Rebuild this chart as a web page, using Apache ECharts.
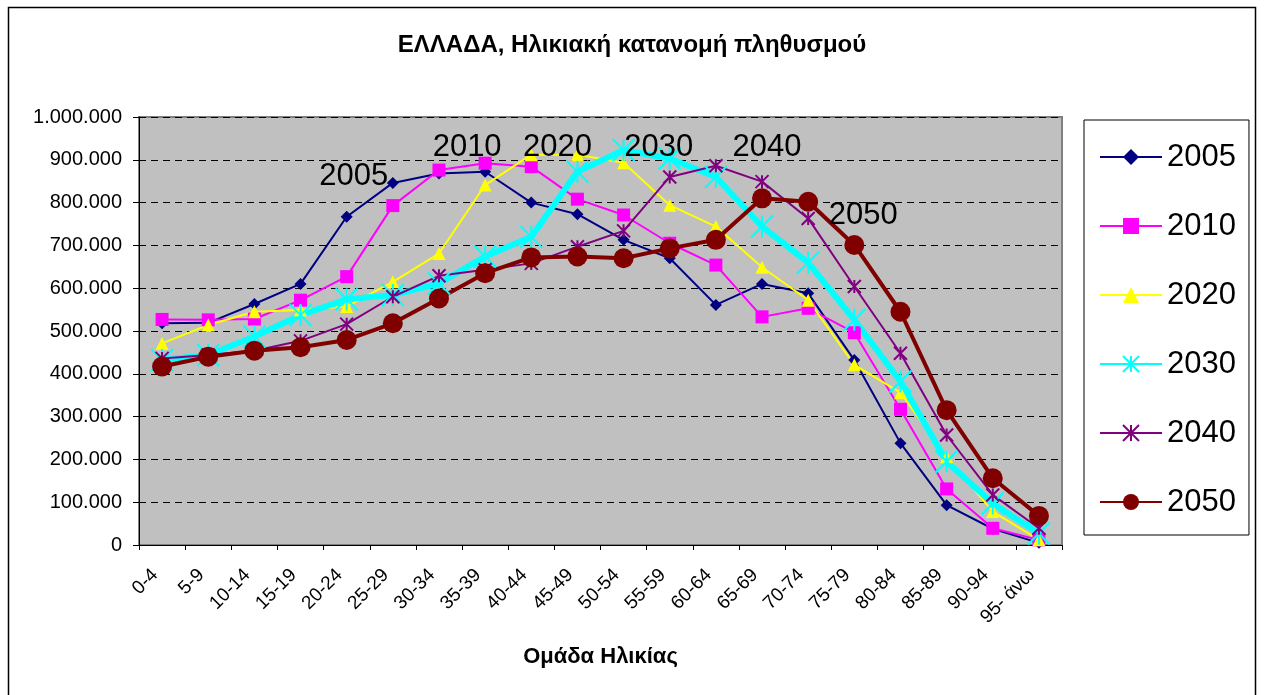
<!DOCTYPE html>
<html>
<head>
<meta charset="utf-8">
<script src="https://cdn.jsdelivr.net/npm/echarts@6/dist/echarts.min.js"></script>
<style>
html,body{margin:0;padding:0;background:#fff;}
#chart{width:1264px;height:695px;}
</style>
</head>
<body>
<div id="chart"></div>
<script>
const categories = ['0-4','5-9','10-14','15-19','20-24','25-29','30-34','35-39','40-44','45-49','50-54','55-59','60-64','65-69','70-74','75-79','80-84','85-89','90-94','95- άνω'];
const yTicks = [0,100000,200000,300000,400000,500000,600000,700000,800000,900000,1000000];
const years = ['2005','2010','2020','2030','2040','2050'];
const s2005 = [518000,519000,563000,610000,767000,846000,868000,872000,800000,773000,713000,670000,561000,610000,588000,432000,238000,93000,38000,5000];
const s2010 = [527000,526000,528000,572000,627000,793000,876000,892000,884000,808000,771000,705000,654000,533000,553000,496000,317000,131000,39000,12000];
const s2020 = [471000,514000,545000,549000,557000,615000,681000,841000,912000,912000,893000,794000,744000,649000,572000,421000,356000,206000,78000,12000];
const s2030 = [432000,444000,487000,537000,574000,584000,611000,674000,720000,872000,923000,903000,860000,744000,660000,526000,382000,195000,97000,27000];
const s2040 = [436000,444000,454000,477000,516000,580000,629000,643000,658000,697000,734000,860000,886000,849000,763000,604000,448000,257000,117000,39000];
const s2050 = [417000,440000,454000,462000,479000,518000,576000,635000,672000,674000,670000,693000,713000,810000,802000,701000,545000,315000,156000,68000];
// year annotation anchors: [category index, value]
const annot2005 = [4, 862000];
const annot2010 = [7, 928000];
const annot2020 = [9, 928000];
const annot2030 = [11, 928000];
const annot2040 = [13, 928000];
const annot2050 = [15, 769000];

const FONT = 'Liberation Sans, Arial, Helvetica, sans-serif';
const ASTER = 'path://M5,0L5,10M0,0L10,10M10,0L0,10';

function fmt(v){ return String(v).replace(/\B(?=(\d{3})+(?!\d))/g,'.'); }

function mk(text, anchor, dx){
  return {
    symbol:'circle', symbolSize:0, z:6,
    label:{show:true, position:'inside', formatter:text, color:'#000', fontSize:31, fontFamily:FONT, offset:[dx,0]},
    data:[{coord:anchor}]
  };
}

const chart = echarts.init(document.getElementById('chart'), null, {renderer:'canvas'});
chart.setOption({
  animation:false,
  backgroundColor:'#fff',
  title:{
    text:'ΕΛΛΑΔΑ, Ηλικιακή κατανομή πληθυσμού',
    left:'center', top:28,
    textStyle:{fontFamily:FONT, fontWeight:'bold', fontSize:24, color:'#000'}
  },
  graphic:[{
    type:'rect', left:6, top:5, z:-1,
    shape:{width:1247, height:720},
    style:{fill:'none', stroke:'#000', lineWidth:1.5}
  }],
  legend:{
    orient:'vertical', left:1084, top:120,
    padding:[20,13,16,15],
    itemWidth:62, itemHeight:20, itemGap:35,
    borderColor:'#000', borderWidth:1,
    backgroundColor:'#fff',
    textStyle:{fontFamily:FONT, fontSize:31, color:'#000', lineHeight:34},
    data:years
  },
  grid:{
    left:139, top:117, width:923, height:428,
    show:true, backgroundColor:'#C0C0C0', borderColor:'#808080', borderWidth:2,
    outerBoundsMode:'none', containLabel:false
  },
  xAxis:{
    type:'category', data:categories, boundaryGap:true,
    name:'Ομάδα Ηλικίας', nameLocation:'middle', nameGap:101,
    nameTextStyle:{fontFamily:FONT, fontWeight:'bold', fontSize:22, color:'#000'},
    axisLine:{show:true, lineStyle:{color:'#000', width:1}},
    axisTick:{show:true, alignWithLabel:false, length:5, lineStyle:{color:'#000'}},
    axisLabel:{rotate:45, interval:0, margin:20, padding:[0,10,0,0], fontFamily:FONT, fontSize:19, color:'#000'},
    splitLine:{show:false}
  },
  yAxis:{
    type:'value', min:yTicks[0], max:yTicks[yTicks.length-1], interval:yTicks[1]-yTicks[0],
    axisLine:{show:true, lineStyle:{color:'#000', width:1}},
    axisTick:{show:true, length:6, lineStyle:{color:'#000'}},
    axisLabel:{formatter:fmt, margin:17, fontFamily:FONT, fontSize:20, color:'#000'},
    splitLine:{show:true, lineStyle:{color:'#000', width:1, type:[7,5]}}
  },
  series:[
    {name:years[0], type:'line', data:s2005, symbol:'diamond', symbolSize:12, showAllSymbol:true,
     lineStyle:{color:'#000080', width:2}, itemStyle:{color:'#000080'}, markPoint:mk('2005', annot2005, 7)},
    {name:years[1], type:'line', data:s2010, symbol:'rect', symbolSize:13, showAllSymbol:true,
     lineStyle:{color:'#FF00FF', width:2}, itemStyle:{color:'#FF00FF'}, markPoint:mk('2010', annot2010, -18)},
    {name:years[2], type:'line', data:s2020, symbol:'triangle', symbolSize:13, showAllSymbol:true,
     lineStyle:{color:'#FFFF00', width:2}, itemStyle:{color:'#FFFF00'}, markPoint:mk('2020', annot2020, -20)},
    {name:years[3], type:'line', data:s2030, symbol:ASTER, symbolSize:22, showAllSymbol:true,
     lineStyle:{color:'#00FFFF', width:6}, itemStyle:{color:'#00FFFF', borderColor:'#00FFFF', borderWidth:2}, markPoint:mk('2030', annot2030, -11)},
    {name:years[4], type:'line', data:s2040, symbol:ASTER, symbolSize:13, showAllSymbol:true,
     lineStyle:{color:'#800080', width:2}, itemStyle:{color:'#800080', borderColor:'#800080', borderWidth:2}, markPoint:mk('2040', annot2040, 5)},
    {name:years[5], type:'line', data:s2050, symbol:'circle', symbolSize:20, showAllSymbol:true,
     lineStyle:{color:'#800000', width:4}, itemStyle:{color:'#800000'}, markPoint:mk('2050', annot2050, 9)}
  ]
});
</script>
</body>
</html>
